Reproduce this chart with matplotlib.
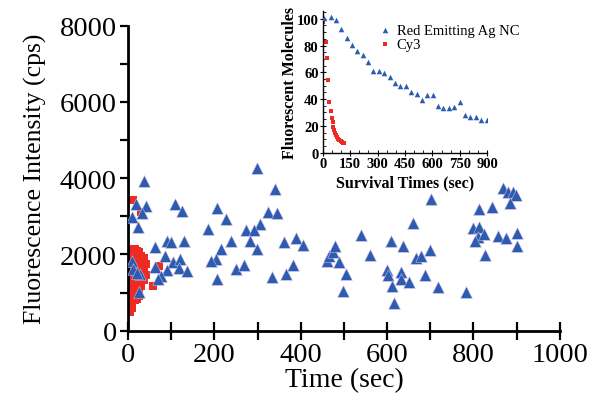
import matplotlib
matplotlib.use("Agg")
import matplotlib.pyplot as plt
from matplotlib.ticker import MultipleLocator

plt.rcParams['font.family'] = ['Liberation Serif', 'DejaVu Serif']

# ---------------- main scatter data ----------------
blue_t = [37, 19, 42, 108, 126, 32, 9, 23, 89, 100, 130, 63, 85, 8, 12, 27, 20, 62, 104,
          121, 118, 137, 91, 77, 69, 25,
          205, 227, 186, 215, 204, 191, 205, 298, 340, 325, 346, 305, 273, 292, 238, 282,
          298, 251, 268, 334, 365, 383, 361, 389, 406, 460, 465, 475, 479, 489, 504, 498,
          539, 560, 610, 599, 603, 612, 616, 633, 632, 651, 637, 659, 668, 678, 687, 699,
          701, 718, 782, 799, 813, 813, 811, 803, 824, 826, 842, 857, 876, 869, 880, 892,
          898, 884, 902, 902]
blue_I = [3934, 3323, 3279, 3323, 3148, 3087, 2974, 2712, 2361, 2335, 2352, 2187, 1967,
          1836, 1620, 1486, 1500, 1661, 1792, 1880, 1635, 1573, 1590, 1442, 1354, 1010,
          3209, 2929, 2667, 2142, 1880, 1819, 1355, 4258, 3716, 3104, 3086, 2798, 2649,
          2649, 2361, 2343, 2142, 1617, 1731, 1399, 1486, 1731, 2334, 2422, 2247, 1836,
          1967, 2055, 2212, 1792, 1486, 1049, 2509, 1985, 2361, 1600, 1460, 1180, 717,
          1548, 1355, 1268, 2212, 2824, 1897, 1967, 1460, 2125, 3454, 1137, 1005, 2684,
          3191, 2710, 2448, 2361, 2536, 1985, 3235, 2474, 2422, 3733, 3646, 3628, 3559,
          3349, 2553, 2230]

red_t = [5, 5, 5, 5, 5, 5, 5, 5, 5,
         10, 10, 10, 10, 10, 10, 10, 10, 10,
         15, 15, 15, 15, 15, 15, 15, 15,
         20, 20, 20, 20, 20, 20, 20, 20,
         26, 26, 26, 26, 26, 26, 26,
         31, 31, 31, 31, 31,
         37, 37, 37, 37,
         42, 42,
         12, 30, 72, 58]
red_I = [2050, 1850, 1650, 1450, 1250, 1050, 850, 650, 480,
         2150, 1950, 1750, 1550, 1350, 1150, 950, 760, 600,
         2150, 1950, 1750, 1550, 1350, 1150, 950, 800,
         2100, 1900, 1700, 1500, 1300, 1100, 950, 820,
         2050, 1850, 1650, 1450, 1250, 1080, 900,
         1950, 1750, 1550, 1350, 1180,
         1900, 1700, 1500, 1320,
         1750, 1450,
         3420, 3100, 1705, 1165]

# ---------------- inset data ----------------
inset_blue_t = [7, 44, 71, 102, 131, 160, 190, 219, 248, 277, 306, 337, 366, 396, 425, 454,
                485, 514, 543, 572, 601, 631, 660, 689, 720, 749, 778, 807, 837, 866, 897]
inset_blue_y = [100.5, 101, 99, 92, 85.5, 80.5, 76, 73, 68, 61, 61, 59.6, 56.6, 52, 50, 50,
                45, 44, 39, 43, 43, 35, 33.4, 33.4, 34.4, 38, 28.4, 26.7, 26.7, 24.7, 24.7]
inset_red_t = [4, 20, 25, 31, 36, 43, 49, 54, 58, 62, 66, 71, 77, 84, 91, 99, 106, 113, 117]
inset_red_y = [97.5, 82.5, 70.6, 54.4, 37.7, 31, 25.7, 22.7, 19.2, 17.2, 15, 13.2, 11.5,
               10.5, 9.5, 9, 8.2, 7.6, 7.2]

BLUE = '#2B5CB0'
RED = '#EE2A24'

fig = plt.figure(figsize=(5.93, 4.02), dpi=100)
ax = fig.add_axes([0.216, 0.175, 0.728, 0.759])

ax.scatter(red_t, red_I, marker='s', s=34, color=RED, linewidths=0, zorder=2)
ax.scatter(blue_t, blue_I, marker='^', s=70, color=BLUE, linewidths=0.4,
           edgecolors='#C8B8E0', zorder=3)

ax.set_xlim(0, 1000)
ax.set_ylim(0, 8000)
for s in ['top', 'right']:
    ax.spines[s].set_visible(False)
for s in ['left', 'bottom']:
    ax.spines[s].set_linewidth(2)

ax.xaxis.set_major_locator(MultipleLocator(200))
ax.xaxis.set_minor_locator(MultipleLocator(100))
ax.yaxis.set_major_locator(MultipleLocator(2000))
ax.yaxis.set_minor_locator(MultipleLocator(1000))
ax.tick_params(axis='x', which='both', direction='inout', length=13, width=1.6,
               labelsize=20.5, pad=2)
ax.tick_params(axis='y', which='both', direction='out', length=6, width=1.6,
               labelsize=20.5, pad=2)
ax.set_xlabel('Time (sec)', fontsize=20, labelpad=0)
ax.set_ylabel('Fluorescence Intensity (cps)', fontsize=18.5, labelpad=9)

# ---------------- inset ----------------
ins = fig.add_axes([0.5442, 0.6177, 0.2776, 0.3532])
ins.scatter(inset_blue_t, inset_blue_y, marker='^', s=16, color=BLUE, linewidths=0,
            label='Red Emitting Ag NC', zorder=3)
ins.scatter(inset_red_t, inset_red_y, marker='s', s=9, color=RED, linewidths=0,
            label='Cy3', zorder=2)
ins.set_xlim(0, 900)
ins.set_ylim(0, 106)
for s in ['top', 'right']:
    ins.spines[s].set_visible(False)
for s in ['left', 'bottom']:
    ins.spines[s].set_linewidth(1.0)
ins.patch.set_alpha(0)
ins.xaxis.set_major_locator(MultipleLocator(150))
ins.xaxis.set_minor_locator(MultipleLocator(50))
ins.yaxis.set_major_locator(MultipleLocator(20))
ins.yaxis.set_minor_locator(MultipleLocator(5))
ins.tick_params(which='major', direction='inout', length=4, width=0.8, labelsize=10.5, pad=1)
ins.tick_params(which='minor', direction='in', length=2, width=0.6)
for lab in ins.get_xticklabels() + ins.get_yticklabels():
    lab.set_fontweight('bold')
ins.set_xlabel('Survival Times (sec)', fontsize=11.5, fontweight='bold', labelpad=3)
ins.set_ylabel('Fluorescent Molecules', fontsize=11.5, fontweight='bold', labelpad=-1)
ins.legend(loc='upper left', bbox_to_anchor=(0.29, 0.98), frameon=False, fontsize=10.5,
           handlelength=0.6, handletextpad=0.5, borderpad=0.2, labelspacing=0.05,
           scatterpoints=1)

fig.savefig('out.png', dpi=100)
